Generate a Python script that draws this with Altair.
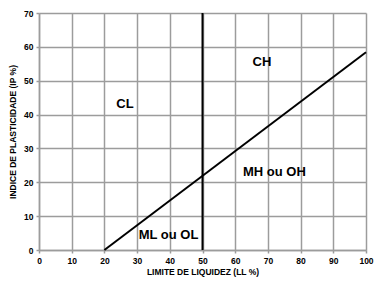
import altair as alt
import pandas as pd

# A-line (IP = 0.73 (LL - 20))
a_ll = [20, 100]
a_ip = [0, 58.4]
# B-line (LL = 50)
b_ll = [50, 50]
b_ip = [0, 70]
# zone labels
lab_text = ["CL", "CH", "MH ou OH", "ML ou OL"]
lab_ll = [26.3, 68.2, 72.0, 39.6]
lab_ip = [43.0, 55.4, 22.9, 4.5]

x_ticks = list(range(0, 101, 10))
y_ticks = list(range(0, 71, 10))

FONT = "Liberation Sans"
GRID = "#9c9c9c"

a_df = pd.DataFrame({"LL": a_ll, "IP": a_ip})
b_df = pd.DataFrame({"LL": b_ll, "IP": b_ip})
lab_df = pd.DataFrame({"t": lab_text, "LL": lab_ll, "IP": lab_ip})

xs = alt.Scale(domain=[0, 100], nice=False)
ys = alt.Scale(domain=[0, 70], nice=False)

common = dict(grid=True, gridColor=GRID, gridWidth=1.5, gridOpacity=1,
              domainColor=GRID, domainWidth=1.5, tickColor=GRID,
              tickSize=3, tickWidth=1.5, labelFont=FONT, labelFontSize=8.5,
              labelFontWeight="bold", labelColor="black", labelPadding=3,
              labelOverlap=False, labelFlush=False,
              titleFont=FONT, titleFontSize=8.5, titleFontWeight="bold",
              titleColor="black")
xaxis = alt.Axis(values=x_ticks, title="LIMITE DE LIQUIDEZ (LL %)",
                 titlePadding=3, **common)
yaxis = alt.Axis(values=y_ticks, title="INDICE DE PLASTICIDADE (IP %)",
                 titlePadding=6, **common)

X = alt.X("LL:Q", scale=xs, axis=xaxis)
Y = alt.Y("IP:Q", scale=ys, axis=yaxis)

a_line = alt.Chart(a_df).mark_line(color="black", strokeWidth=2).encode(x=X, y=Y)
b_line = alt.Chart(b_df).mark_line(color="black", strokeWidth=2).encode(x=X, y=Y)
labels = alt.Chart(lab_df).mark_text(font=FONT, fontSize=13, fontWeight="bold",
                                     color="black").encode(x=X, y=Y, text="t:N")

chart = alt.layer(a_line, b_line, labels).properties(
    width=327, height=237,
    autosize=alt.AutoSizeParams(type="none"),
    padding={"left": 39, "top": 13, "right": 26, "bottom": 31},
    background="white",
).configure_view(stroke=None)

chart.save("out.html", embed_options={"renderer": "svg", "actions": False})
